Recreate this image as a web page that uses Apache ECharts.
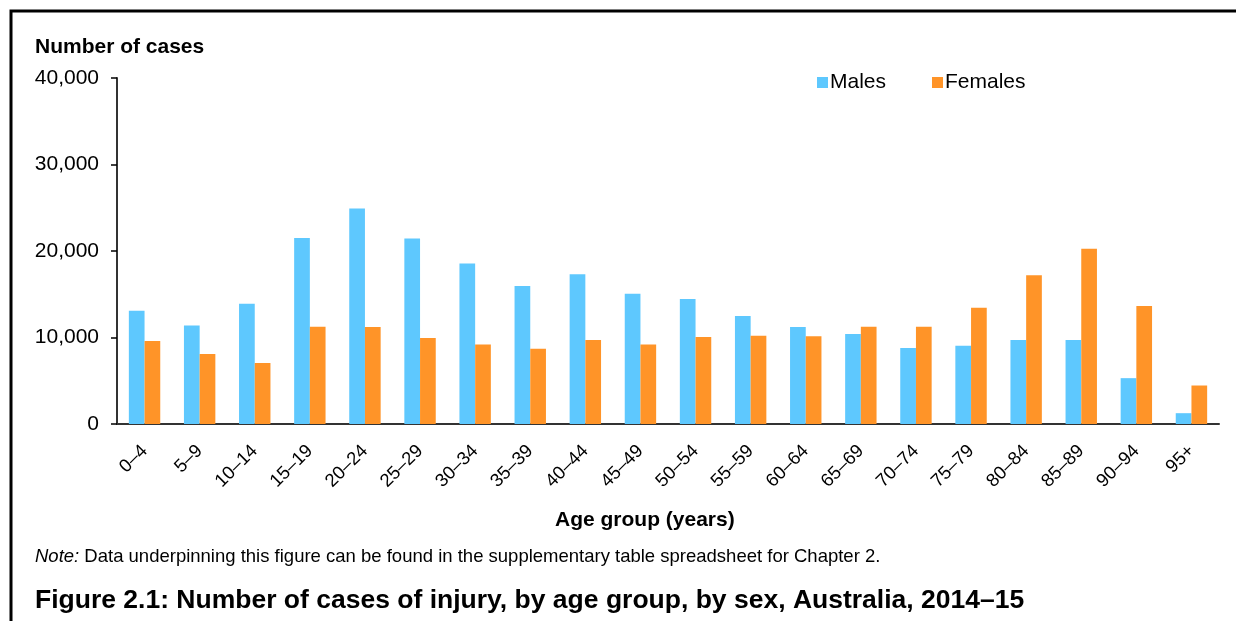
<!DOCTYPE html>
<html>
<head>
<meta charset="utf-8">
<script src="https://cdn.jsdelivr.net/npm/echarts@6/dist/echarts.min.js"></script>
<style>
  html, body { margin: 0; padding: 0; background: #fff; }
  #main { width: 1236px; height: 621px; }
</style>
</head>
<body>
<div id="main"></div>
<script>
  // age groups and counts
  var ageGroups = ['0–4', '5–9', '10–14', '15–19', '20–24', '25–29', '30–34', '35–39', '40–44', '45–49',
    '50–54', '55–59', '60–64', '65–69', '70–74', '75–79', '80–84', '85–89', '90–94', '95+'];
  var males = [13100, 11400, 13900, 21500, 24900, 21450, 18550, 15950, 17300, 15050,
    14450, 12500, 11200, 10400, 8800, 9050, 9700, 9700, 5300, 1250];
  var females = [9600, 8100, 7050, 11250, 11200, 9950, 9200, 8700, 9700, 9200,
    10050, 10200, 10150, 11250, 11250, 13450, 17200, 20250, 13650, 4450];
  var yTicks = [0, 10000, 20000, 30000, 40000];

  var font = 'Liberation Sans, Arial, sans-serif';
  var myChart = echarts.init(document.getElementById('main'));

  var option = {
    backgroundColor: '#fff',
    textStyle: { fontFamily: font, color: '#000' },
    animation: false,
    graphic: [
      // frame (left + top only)
      {
        type: 'polyline',
        shape: { points: [[11, 621], [11, 11], [1236, 11]] },
        style: { stroke: '#000', lineWidth: 3, fill: null }
      },
      {
        type: 'text', left: 35, top: 37,
        style: { text: 'Number of cases', font: 'bold 21px ' + font, fill: '#000' }
      },
      {
        type: 'text', left: 555, top: 510,
        style: { text: 'Age group (years)', font: 'bold 21px ' + font, fill: '#000' }
      },
      {
        type: 'text', left: 35, top: 547,
        style: {
          text: '{i|Note:} Data underpinning this figure can be found in the supplementary table spreadsheet for Chapter 2.',
          font: '18.5px ' + font, fill: '#000',
          rich: { i: { fontStyle: 'italic', fontSize: 18.5, fontFamily: font } }
        }
      },
      {
        type: 'text', left: 35, top: 587,
        style: { text: 'Figure 2.1: Number of cases of injury, by age group, by sex, Australia, 2014–15', font: 'bold 26.5px ' + font, fill: '#000' }
      }
    ],
    legend: {
      left: 812, top: 67,
      itemWidth: 11, itemHeight: 11, itemGap: 46,
      icon: 'rect',
      textStyle: { fontSize: 21, fontFamily: font, color: '#000', padding: [0, 0, 0, -3] },
      data: ['Males', 'Females']
    },
    grid: { left: 117, right: 17, top: 78, bottom: 197 },
    xAxis: {
      type: 'category',
      data: ageGroups,
      axisLine: { lineStyle: { color: '#333', width: 2 } },
      axisTick: { length: 6, lineStyle: { color: '#000', width: 1.5 } },
      axisLabel: { rotate: 45, fontSize: 18.5, color: '#000', margin: 24, interval: 0 }
    },
    yAxis: {
      type: 'value',
      min: yTicks[0], max: yTicks[yTicks.length - 1], interval: 10000,
      splitLine: { show: false },
      axisLine: { show: true, lineStyle: { color: '#333', width: 2 } },
      axisTick: { show: true, length: 6, lineStyle: { color: '#000', width: 1.5 } },
      axisLabel: {
        fontSize: 21, color: '#000', margin: 18,
        formatter: function (v) { return v.toLocaleString('en-US'); }
      }
    },
    series: [
      {
        name: 'Males', type: 'bar', data: males,
        barGap: '0%', barCategoryGap: '43%',
        itemStyle: { color: '#5EC8FE' }
      },
      {
        name: 'Females', type: 'bar', data: females,
        itemStyle: { color: '#FF9428' }
      }
    ]
  };
  myChart.setOption(option);
</script>
</body>
</html>
